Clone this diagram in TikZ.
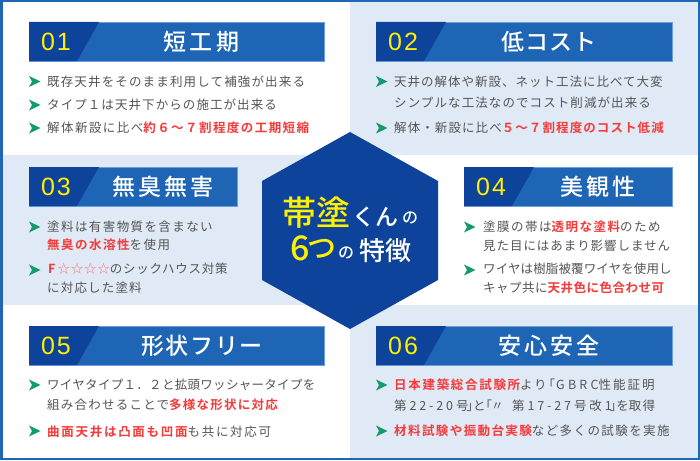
\documentclass[tikz,border=0pt]{standalone}
\usepackage{fontspec}
\setmainfont{Noto Sans CJK JP}
\newfontfamily\jp[LetterSpace=8,BoldFont={Noto Sans CJK JP Bold}]{Noto Sans CJK JP}
\newfontfamily\jpt[LetterSpace=14]{Noto Sans CJK JP Medium}
\newfontfamily\jph{Noto Sans CJK JP Medium}
\newfontfamily\numf[LetterSpace=8]{Liberation Sans}
\definecolor{edgeblue}{HTML}{1F66B5}
\definecolor{panel}{HTML}{E0EAF6}
\definecolor{navy}{HTML}{0E439B}
\definecolor{bann}{HTML}{1E65B6}
\definecolor{bline}{HTML}{6F9FD8}
\definecolor{txt}{HTML}{555555}
\definecolor{redt}{HTML}{F53A3A}
\definecolor{yel}{HTML}{FFF000}
\definecolor{grn}{HTML}{149A6F}
\newcommand{\Rd}[1]{{\bfseries\color{redt}#1}}
\newcommand{\ls}[1]{\addfontfeature{LetterSpace=#1}}
\tikzset{
  x=1pt,y=-1pt,
  body/.style={anchor=west,inner sep=0pt,text=txt,font=\jp\fontsize{12.5}{14}\selectfont},
  ttl/.style={inner sep=0pt,text=white,font=\jpt\fontsize{23}{25}\selectfont},
  num/.style={inner sep=0pt,text=yel,font=\numf\fontsize{25}{27}\selectfont},
  hex/.style={anchor=center,inner sep=0pt},
  chev/.pic={\fill[grn] (0,-5.5) -- (11.5,0) -- (0,5.5) -- (3,0) -- cycle;}
}
\newcommand{\banner}[6]{% x1,x2,y,num,title,titlecx
  \fill[bann,draw=bline,line width=.5pt] (#1,#3) rectangle (#2,#3+39);
  \fill[navy] (#1,#3) -- (#1+70,#3) -- (#1+48,#3+39) -- (#1,#3+39) -- cycle;
  \node[num] (n#4) at (#1+27,#3+19.5) {#4};
  \node[ttl] (t#4) at (#6,#3+19.5) {#5};
}
\begin{document}
\begin{tikzpicture}
\useasboundingbox (0,0) rectangle (700,460);
\fill[white] (0,0) rectangle (700,460);
\fill[panel] (350,0) rectangle (700,154.5);
\fill[panel] (0,155) rectangle (350,305);
\fill[panel] (350,305) rectangle (700,460);
\draw[edgeblue,line width=2.5pt] (1.25,1.25) rectangle (698.75,458.75);
\fill[navy] (350,132) -- (438,181) -- (438,280) -- (350,329) -- (262,280) -- (262,181) -- cycle;

\banner{29}{324}{22}{01}{短工期}{201.5}
\banner{376}{672}{22}{02}{\ls{3}低コスト}{549}
\banner{29}{237}{167}{03}{無臭無害}{163}
\banner{464}{672}{167}{04}{美観性}{598}
\banner{29}{324}{326}{05}{\ls{7}形状フリー}{202}
\banner{376}{672}{326}{06}{安心安全}{549}

\pic at (29,81.5) {chev};
\node[body] (a1) at (47,82) {\ls{9.2}既存天井をそのまま利用して補強が出来る};
\pic at (29,105) {chev};
\node[body] (a2) at (47,105) {\ls{8.6}タイプ１は天井下からの施工が出来る};
\pic at (29,128) {chev};
\node[body] (a3) at (47,128) {\ls{11.5}解体新設に比べ\Rd{約６～７割程度の工期短縮}};

\pic at (376,81.5) {chev};
\node[body] (b1) at (394,82) {\ls{8}天井の解体や新設、ネット工法に比べて大変};
\node[body] (b2) at (394,103) {\ls{8.7}シンプルな工法なのでコスト削減が出来る};
\pic at (376,128) {chev};
\node[body] (b3) at (394,128) {\ls{8.7}解体・新設に比べ\Rd{５～７割程度のコスト低減}};

\pic at (29,227) {chev};
\node[body] (c1) at (47,227) {\ls{11.3}塗料は有害物質を含まない};
\node[body] (c2) at (47,245) {\ls{12}\Rd{無臭の水溶性}を使用};
\pic at (29,270) {chev};
\node[body] (c3) at (48,269) {\ls{6}\Rd{F}\kern2pt{\color{redt!70}☆☆☆☆}のシックハウス対策};
\node[body] (c4) at (47,288) {\ls{9.4}に対応した塗料};

\pic at (464,227) {chev};
\node[body] (d1) at (483,227) {\ls{12}塗膜の帯は\Rd{透明な塗料}のため};
\node[body] (d2) at (483,246) {\ls{7.5}見た目にはあまり影響しません};
\pic at (464,270) {chev};
\node[body] (d3) at (483,269) {\ls{1}ワイヤは樹脂被覆ワイヤを使用し};
\node[body] (d4) at (483,288) {\ls{4}キャプ共に\Rd{天井色に色合わせ可}};

\pic at (29,385) {chev};
\node[body] (e1) at (47,385) {\ls{2.4}ワイヤタイプ１．２と拡頭ワッシャータイプを};
\node[body] (e2) at (47,405) {\ls{9.9}組み合わせることで\Rd{多様な形状に対応}};
\pic at (29,431) {chev};
\node[body] (e3) at (47,432) {\ls{13.7}\Rd{曲面天井は凸面も凹面}も共に対応可};

\pic at (376,385) {chev};
\node[body] (f1) at (394,385) {\ls{13.5}\Rd{日本建築総合試験所}より\kern-4pt「\kern1pt{\ls{26}GBRC}{\ls{16}性能証明}};
\node[body] (f2) at (394,406) {\ls{23}第22-20号\kern-2pt」\kern-6pt と\kern-6pt「\kern-1pt〃 \kern3pt第17-27号改1\kern-2pt」\kern-6pt を\ls{12}取得};
\pic at (376,431) {chev};
\node[body] (f3) at (394,431) {\ls{11.3}\Rd{材料試験や振動台実験}など多くの試験を実施};

\node[hex,text=yel,font=\jph\fontsize{34}{36}\selectfont] (h1) at (316,213) {帯塗};
\node[hex,text=white,font=\jph\fontsize{23}{25}\selectfont] (h2) at (375,217) {くん};
\node[hex,text=white,font=\jph\fontsize{16}{18}\selectfont] (h3) at (410,218) {の};
\node[hex,text=yel,font=\jph\fontsize{34}{36}\selectfont] (h4a) at (300,248) {6};
\node[hex,text=yel,font=\jph\fontsize{29}{31}\selectfont] (h4b) at (322,249) {つ};
\node[hex,text=white,font=\jph\fontsize{16}{18}\selectfont] (h5) at (346,253) {の};
\node[hex,text=white,font=\jph\fontsize{26}{28}\selectfont] (h6) at (385,251) {特徴};
\end{tikzpicture}
\end{document}
